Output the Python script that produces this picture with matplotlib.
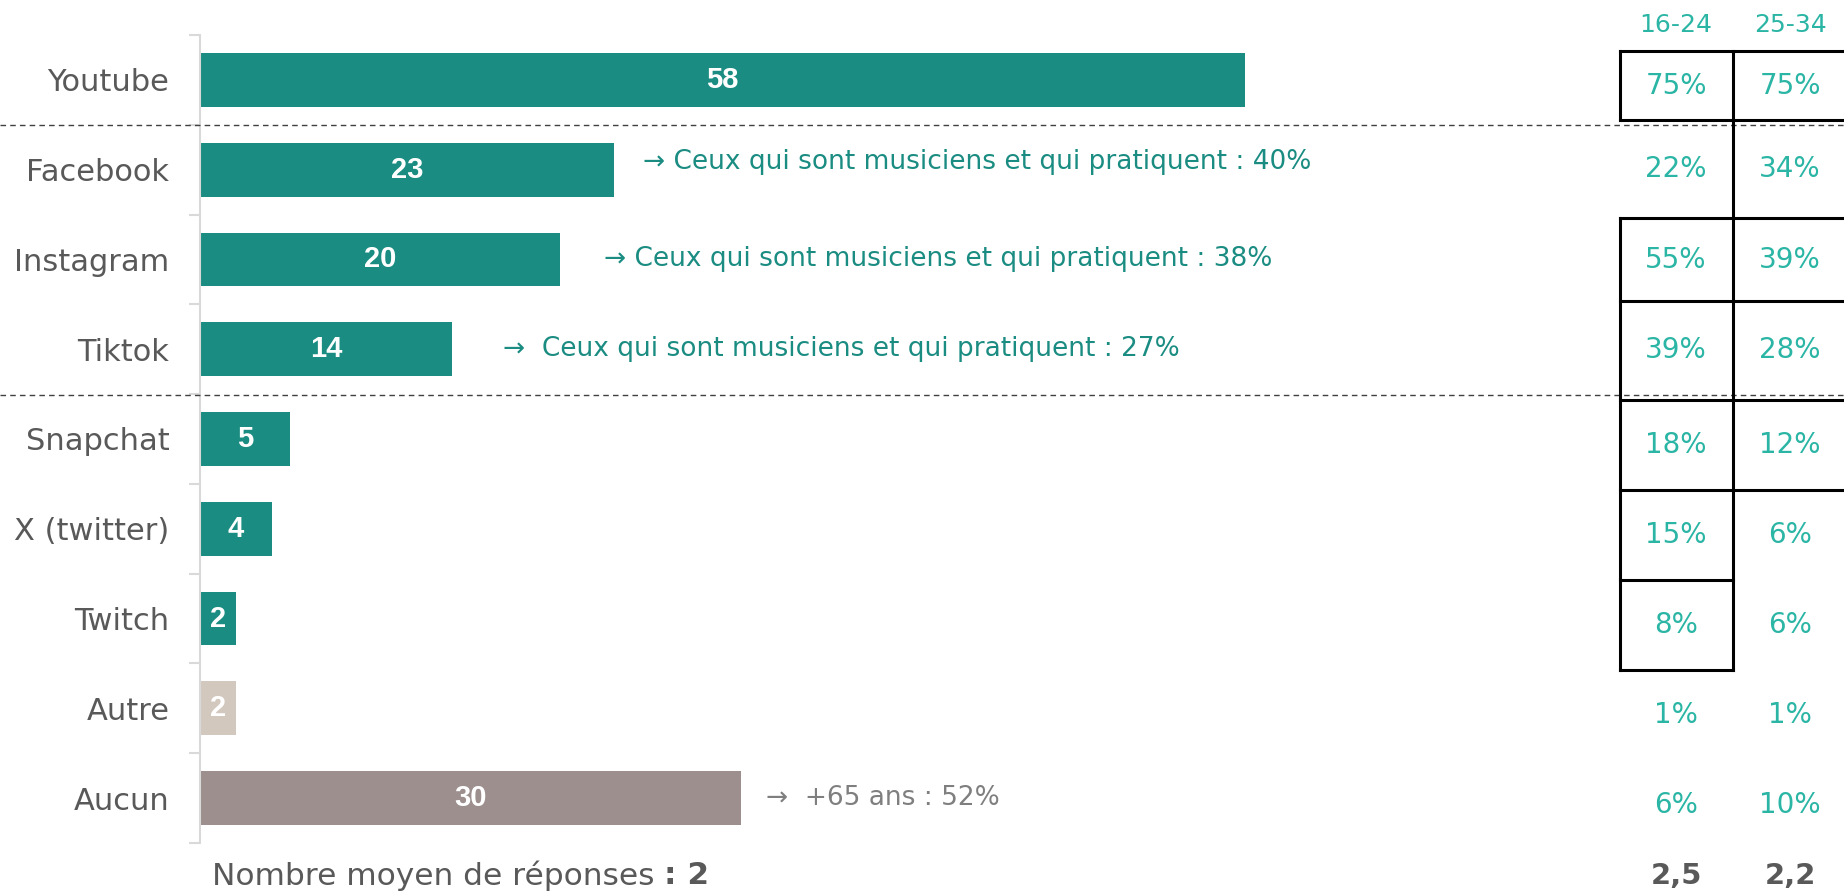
import numpy as np
import matplotlib.pyplot as plt

# data
platforms = ["Youtube", "Facebook", "Instagram", "Tiktok", "Snapchat",
             "X (twitter)", "Twitch", "Autre", "Aucun"]
values = [58, 23, 20, 14, 5, 4, 2, 2, 30]
age_cols = ["16-24", "25-34"]
pct_16_24 = ["75%", "22%", "55%", "39%", "18%", "15%", "8%", "1%", "6%"]
pct_25_34 = ["75%", "34%", "39%", "28%", "12%", "6%", "6%", "1%", "10%"]
avg_answers = ["2,5", "2,2"]
avg_total = "2"
notes = {1: "\u2192 Ceux qui sont musiciens et qui pratiquent : 40%",
         2: "\u2192 Ceux qui sont musiciens et qui pratiquent : 38%",
         3: "\u2192  Ceux qui sont musiciens et qui pratiquent : 27%",
         8: "\u2192  +65 ans : 52%"}

teal = "#1A8C82"
light_teal = "#2BB5A5"
grey_txt = "#595959"
colors = [teal] * 7 + ["#D3C8BE", "#9C8F8E"]

W, H = 1844, 891
fig = plt.figure(figsize=(W / 100, H / 100), dpi=100)

# bar axes: spine at x=200px, rows from 35px to 843px
ax = fig.add_axes([200 / W, (H - 843) / H, (W - 200) / W, (843 - 35) / H])
y = np.arange(len(platforms))
ax.barh(y, values, height=0.6, color=colors)
ax.set_xlim(0, (W - 200) / 18.02)
ax.set_ylim(len(platforms) - 0.5, -0.5)

for i, v in enumerate(values):
    ax.text(v / 2, i, str(v), ha="center", va="center", color="white",
            fontsize=21, fontweight="bold", family="Liberation Sans")

for i, txt in notes.items():
    gap = {1: 1.6, 2: 2.4, 3: 2.8, 8: 1.4}[i]
    c = "#7F7F7F" if i == 8 else teal
    dy = -0.09 if i == 1 else 0
    ax.text(values[i] + gap, i + dy, txt, ha="left", va="center", color=c,
            fontsize=19)

ax.set_yticks(y)
ax.set_yticklabels(platforms, fontsize=22, color=grey_txt)
ax.set_yticks(np.arange(-0.5, len(platforms)), minor=True)
ax.tick_params(axis="y", which="major", length=0, pad=22)
ax.tick_params(axis="y", which="minor", length=8, color="#D9D9D9", width=1.5)
ax.set_xticks([])
for s in ["top", "right", "bottom"]:
    ax.spines[s].set_visible(False)
ax.spines["left"].set_color("#D9D9D9")
ax.spines["left"].set_linewidth(1.5)

# overlay in pixel coords for table and separators
ov = fig.add_axes([0, 0, 1, 1])
ov.set_xlim(0, W)
ov.set_ylim(H, 0)
ov.axis("off")

for yy in [125, 395]:
    ov.plot([0, W], [yy, yy], color="#404040", lw=1, dashes=(4, 3))

col_x = [1676, 1790]
row_edges = [51, 120, 218, 301, 400, 490, 580, 670, 760, 850]
for j, lab in enumerate(age_cols):
    ov.text(col_x[j], 25, lab, ha="center", va="center", color=light_teal, fontsize=18)
for i in range(len(platforms)):
    yc = (row_edges[i] + row_edges[i + 1]) / 2
    ov.text(col_x[0], yc, pct_16_24[i], ha="center", va="center", color=light_teal, fontsize=20)
    ov.text(col_x[1], yc, pct_25_34[i], ha="center", va="center", color=light_teal, fontsize=20)
for j, a in enumerate(avg_answers):
    ov.text(col_x[j], 876, a, ha="center", va="center", color=grey_txt,
            fontsize=21, fontweight="bold")

# cell borders
lw = 2.2
xl, xm, xr = 1620, 1733, W
for yy in [51, 120, 218, 301, 400, 490]:
    ov.plot([xl, xr], [yy, yy], color="black", lw=lw, solid_capstyle="projecting")
for yy in [580, 670]:
    ov.plot([xl, xm], [yy, yy], color="black", lw=lw, solid_capstyle="projecting")
ov.plot([xl, xl], [51, 120], color="black", lw=lw)
ov.plot([xl, xl], [218, 670], color="black", lw=lw)
ov.plot([xm, xm], [51, 670], color="black", lw=lw)

t1 = ov.text(212, 876, "Nombre moyen de réponses ", ha="left", va="center",
             color=grey_txt, fontsize=22.5)
ov.annotate(": " + avg_total, xy=(1, 0.5), xycoords=t1, ha="left", va="center",
            color=grey_txt, fontsize=22.5, fontweight="bold")

fig.savefig("out.png", dpi=100)
